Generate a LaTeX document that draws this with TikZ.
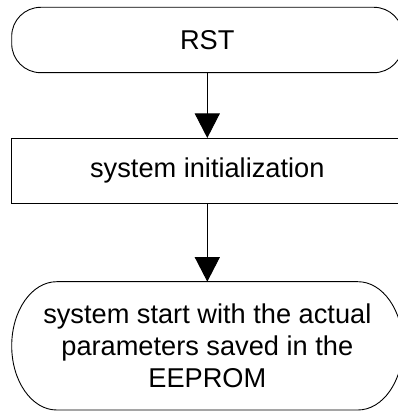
\documentclass[tikz,border=0pt]{standalone}
\usepackage{fontspec}
\setmainfont{Liberation Sans}
\usetikzlibrary{arrows.meta}
\begin{document}
\begin{tikzpicture}[x=1pt,y=1pt,
  every node/.style={font=\fontsize{27.2}{32.3}\selectfont, inner sep=0pt, outer sep=0pt},
  shapeline/.style={draw=black, line width=0.9pt},
  terminal/.style={shapeline, rounded corners=29pt, minimum width=391.2pt, minimum height=65.4pt},
  process/.style={shapeline, minimum width=391.2pt, minimum height=65.3pt},
  flowarrow/.style={draw=black, line width=0.9pt, -{Triangle[width=25pt,length=24.5pt]}}
]
\useasboundingbox (0,0) rectangle (397,412);
\node[terminal] (rst) at (207.3,372) {RST};
\node[process] (init) at (207.3,241.35) {system initialization};
\node[minimum width=391.2pt, minimum height=128.3pt, align=center] (start) at (207.3,66.15)
  {system start with the actual\\parameters saved in the\\EEPROM};
\draw[shapeline] ([xshift=45pt]start.north west) -- ([xshift=-45pt]start.north east)
  arc[start angle=90,end angle=-90,x radius=45pt,y radius=64.15pt]
  -- ([xshift=45pt]start.south west)
  arc[start angle=270,end angle=90,x radius=45pt,y radius=64.15pt] -- cycle;
\draw[flowarrow] (rst) -- (init);
\draw[flowarrow] (init) -- (start);
\end{tikzpicture}
\end{document}
